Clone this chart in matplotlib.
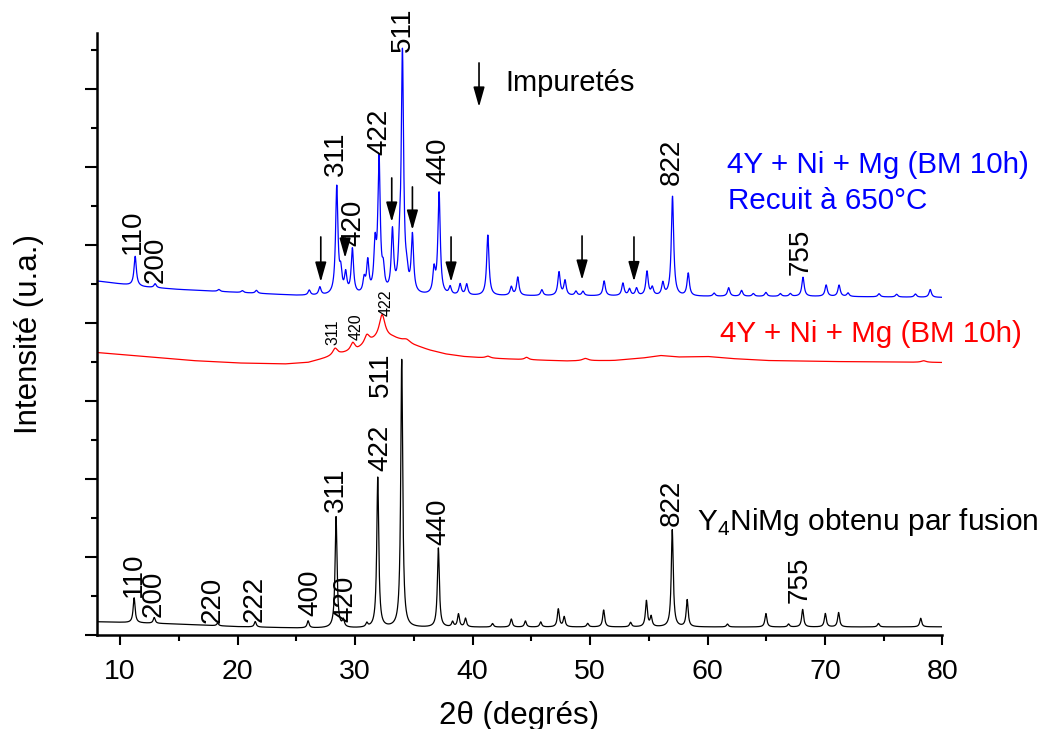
import numpy as np
import matplotlib
matplotlib.use("Agg")
import matplotlib.pyplot as plt
from matplotlib.ticker import MultipleLocator, NullFormatter

plt.rcParams['font.family'] = ['Liberation Sans', 'DejaVu Sans']
plt.rcParams['mathtext.fontset'] = 'custom'
plt.rcParams['mathtext.rm'] = 'Liberation Sans'

# ---- data (2theta in degrees, intensity in a.u.) ----
# Y4NiMg obtenu par fusion (black, bottom)
black_base_tt = [8, 10, 15, 20, 25, 30, 40, 50, 60, 70, 80]
black_base_i = [340, 325, 280, 215, 180, 175, 200, 205, 205, 205, 210]
black_peak_tt = [11.19, 12.9, 18.3, 21.5, 26.0, 28.38, 29.0, 31.0, 31.93, 33.97,
                 37.09, 38.3, 38.8, 39.4, 41.7, 43.3, 44.5, 45.8, 47.3, 47.8,
                 49.8, 51.16, 53.45, 54.8, 55.2, 57.0, 58.27, 61.7, 64.97, 66.9,
                 68.1, 70.03, 71.16, 74.55, 78.15]
black_peak_i = [640, 150, 65, 140, 180, 2850, 180, 100, 3850, 6870,
                2030, 130, 330, 220, 90, 205, 155, 130, 460, 255,
                90, 435, 115, 665, 255, 2490, 690, 75, 345, 75,
                450, 345, 370, 90, 220]

# 4Y + Ni + Mg (BM 10h) recuit a 650 C (blue, top)
blue_base_tt = [8, 10, 12, 15, 20, 25, 27, 30, 40, 50, 60, 70, 80]
blue_base_i = [9077, 9000, 8923, 8859, 8782, 8705, 8692, 8692, 8692, 8692, 8679, 8679, 8654]
blue_peak_tt = [11.28, 12.98, 18.4, 20.4, 21.6, 26.1, 27.0, 28.44, 28.78, 29.2,
                29.77, 30.77, 31.08, 31.7, 32.04, 32.4, 33.18, 33.78, 34.03, 34.4,
                34.88, 36.72, 37.15, 38.09, 38.94, 39.5, 41.3, 43.3, 43.85, 45.9,
                47.36, 47.87, 48.8, 49.4, 51.2, 52.8, 53.36, 53.96, 54.85, 55.3,
                56.2, 57.02, 58.36, 60.56, 61.8, 62.9, 63.9, 64.97, 66.2, 67.05,
                68.13, 70.1, 71.2, 71.96, 74.6, 76.1, 77.7, 78.96]
blue_peak_i = [756, 100, 50, 50, 75, 130, 205, 2750, 500, 500,
               1150, 350, 800, 1150, 3400, 500, 1550, 700, 6100, 350,
               1450, 600, 2600, 200, 280, 280, 1550, 220, 470, 150,
               600, 380, 110, 110, 380, 320, 170, 190, 620, 200,
               320, 2550, 580, 80, 220, 150, 70, 100, 70, 70,
               490, 290, 290, 90, 80, 70, 80, 200]

# 4Y + Ni + Mg (BM 10h) (red, middle)
red_base_tt = [8, 10, 13, 16, 20, 24, 26, 27.5, 28.8, 30.2, 31.2, 32.3, 33.2, 34.2,
               35, 36.3, 37.7, 39.2, 41, 44, 48, 52, 54.5, 56, 57.5, 60, 62, 65,
               70, 75, 80]
red_base_i = [7243, 7192, 7115, 7038, 6974, 6948, 6987, 7102, 7205, 7307, 7487, 7615, 7615, 7538,
              7436, 7307, 7205, 7141, 7102, 7064, 7025, 7038, 7102, 7166, 7128, 7141, 7089, 7038,
              7013, 7000, 6987]
red_peak_tt = [28.3, 29.8, 31.0, 32.3, 34.4, 41.3, 44.6, 49.6, 78.4]
red_peak_i = [180, 205, 220, 590, 60, 50, 60, 60, 40]
red_peak_w = [0.5, 0.45, 0.5, 0.6, 0.6, 0.5, 0.4, 0.6, 0.5]

# peak labels: text, 2theta, intensity at bottom of label
blue_lab_txt = ["110", "200", "311", "420", "422", "511", "440", "822", "755"]
blue_lab_tt = [11.11, 12.98, 28.38, 29.83, 32.04, 34.09, 37.06, 56.98, 67.96]
blue_lab_i = [9769, 9025, 11769, 9974, 12307, 14948, 11564, 11538, 9230]

black_lab_txt = ["110", "200", "220", "222", "400", "311", "420", "422", "511", "440", "822", "755"]
black_lab_tt = [11.13, 12.83, 17.86, 21.43, 26.17, 28.36, 29.15, 32.13, 32.21, 37.09, 56.98, 67.87]
black_lab_i = [982, 469, 308, 341, 487, 3161, 341, 4213, 6102, 2308, 2795, 820]

red_lab_txt = ["311", "420", "422"]
red_lab_tt = [28.15, 30.09, 32.6]
red_lab_i = [7436, 7564, 8179]

# impurity arrows: 2theta, tail, tip
imp_tt = [27.08, 29.15, 33.12, 34.88, 38.17, 49.32, 53.74]
imp_tail = [10205, 10179, 11717, 11487, 10205, 10230, 10205]
imp_tip = [9051, 9666, 10589, 10384, 9051, 9102, 9064]


def pattern(base_tt, base_i, peak_tt, peak_i, widths):
    '''baseline through the read points plus lorentzian peaks'''
    tt = np.arange(8, 80.001, 0.01)
    y = np.interp(tt, base_tt, base_i)
    for c, h, w in zip(peak_tt, peak_i, widths):
        y = y + h / (1 + ((tt - c) / (w / 2)) ** 2)
    return tt, y


fig = plt.figure(figsize=(10.46, 7.29), dpi=100)
ax = fig.add_axes([0.0924, 0.1289, 0.8086, 0.8262])

tt, yb = pattern(black_base_tt, black_base_i, black_peak_tt, black_peak_i,
                 [0.2] * len(black_peak_tt))
ax.plot(tt, yb, color='black', lw=0.9)
tt, yr = pattern(red_base_tt, red_base_i, red_peak_tt, red_peak_i, red_peak_w)
ax.plot(tt, yr, color='#ff0000', lw=0.9)
tt, yu = pattern(blue_base_tt, blue_base_i, blue_peak_tt, blue_peak_i,
                 [0.24] * len(blue_peak_tt))
ax.plot(tt, yu, color='#0000ff', lw=0.9)

for txt, x, y in zip(blue_lab_txt, blue_lab_tt, blue_lab_i):
    ax.text(x, y, txt, rotation=90, ha='center', va='bottom', fontsize=20)
for txt, x, y in zip(black_lab_txt, black_lab_tt, black_lab_i):
    ax.text(x, y, txt, rotation=90, ha='center', va='bottom', fontsize=20)
for txt, x, y in zip(red_lab_txt, red_lab_tt, red_lab_i):
    ax.text(x, y, txt, rotation=90, ha='center', va='bottom', fontsize=11.5)

arrow = dict(arrowstyle='-|>,head_length=0.6,head_width=0.17', color='black',
             lw=1.2, shrinkA=0, shrinkB=0, mutation_scale=20)
for x, y0, y1 in zip(imp_tt, imp_tail, imp_tip):
    ax.annotate('', xy=(x, y1), xytext=(x, y0), arrowprops=arrow)
ax.annotate('', xy=(40.55, 13538), xytext=(40.55, 14666), arrowprops=arrow)
ax.text(42.77, 13956, 'Impuretés', fontsize=21, va='baseline')

ax.text(61.66, 11846, '4Y + Ni + Mg (BM 10h)', color='#0000ff', fontsize=21.3, va='baseline')
ax.text(61.74, 10923, 'Recuit à 650°C', color='#0000ff', fontsize=21.3, va='baseline')
ax.text(61.06, 7520, '4Y + Ni + Mg (BM 10h)', color='#ff0000', fontsize=21.3, va='baseline')
ax.text(59.1, 2692, r'Y$_{\mathregular{4}}$NiMg obtenu par fusion', fontsize=21.5, va='baseline')

ax.set_xlim(8, 80)
ax.set_ylim(0, 15440)
ax.xaxis.set_major_locator(MultipleLocator(10))
ax.xaxis.set_minor_locator(MultipleLocator(5))
ax.yaxis.set_major_locator(MultipleLocator(2000))
ax.yaxis.set_minor_locator(MultipleLocator(1000))
ax.yaxis.set_major_formatter(NullFormatter())
ax.tick_params(axis='x', which='major', length=7.5, width=1.5, labelsize=20.5, pad=10)
ax.tick_params(axis='x', which='minor', length=4, width=1.5)
ax.tick_params(axis='y', which='major', length=8.5, width=1.5)
ax.tick_params(axis='y', which='minor', length=4.3, width=1.5)
for side in ['top', 'right']:
    ax.spines[side].set_visible(False)
for side in ['left', 'bottom']:
    ax.spines[side].set_linewidth(1.8)

ax.set_xlabel('2θ (degrés)', fontsize=22.5, labelpad=11)
ax.set_ylabel('Intensité (u.a.)', fontsize=22.5, labelpad=26)

fig.savefig('out.png', dpi=100)
